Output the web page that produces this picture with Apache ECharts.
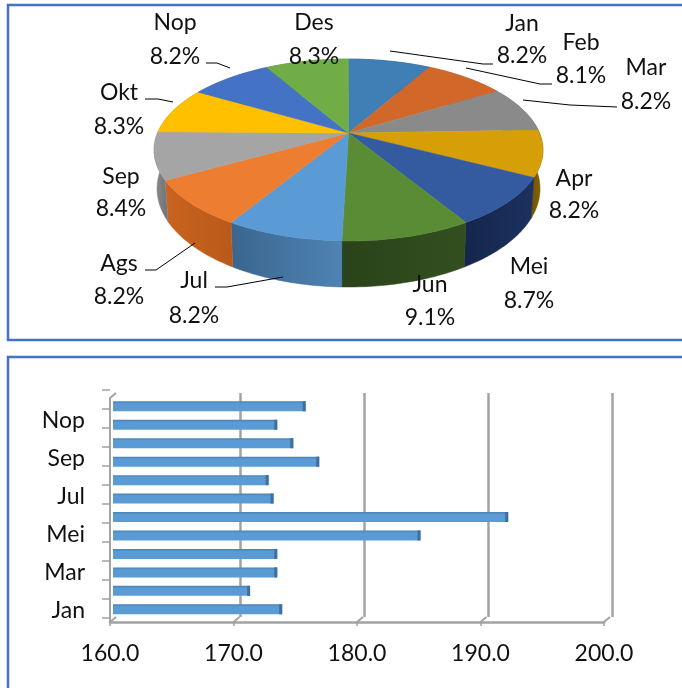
<!DOCTYPE html>
<html><head><meta charset="utf-8">
<style>html,body{margin:0;padding:0;background:#fff}#c{width:682px;height:688px}</style>
<script src="https://cdn.jsdelivr.net/npm/echarts@6/dist/echarts.min.js"></script>
</head><body><div id="c"></div>
<script>
// ---- data ----
const months = ['Jan','Feb','Mar','Apr','Mei','Jun','Jul','Ags','Sep','Okt','Nop','Des'];
const shares = [8.2,8.1,8.2,8.2,8.7,9.1,8.2,8.2,8.4,8.3,8.2,8.3];
const barValues = [173.7,171.1,173.3,173.3,184.9,192.0,173.0,172.6,176.7,174.6,173.3,175.6];
const xTicks = [160,170,180,190,200];

// ---- styles / layout ----
const topColors = ['#3f7fb6','#d2672a','#8a8a8a','#d69f08','#345a9f','#5a8c36','#5b9bd5','#ed7d31','#a5a5a5','#ffc000','#4472c4','#70ad47'];
const wallColors = [['#2f5f88','#2f5f88'],['#9c4d1f','#9c4d1f'],['#686868','#686868'],['#6e5200','#8a6800'],
  ['#14264c','#1d3160'],['#2a431a','#334f1f'],['#3a668f','#4f83b3'],['#c9641f','#b9591a'],['#8d8d8d','#707070'],
  ['#bf9000','#bf9000'],['#335593','#335593'],['#548235','#548235']];
const FONT = '23px Lato, sans-serif';
const labelPos = [[522,24,56],[581,43,76],[646,68,102],[574,179,211],[529,267,301],[430,285,318],
  [194,281,316],[119,264,297],[121,177,209],[119,93,127],[175,23,57],[314,23,57]];
const leaders = [
  [[390,51],[483,64],[493,64]],
  [[466,68],[540,84],[552,84]],
  [[523,100],[570,105],[617,107]],
  [[195,243],[156,270],[145,270]],
  [[283,277],[227,287],[215,287]],
  [[173,102],[158,99],[145,99]],
  [[230,68],[217,63],[206,63]]
];
const APEX = [348.5,133], A = 191, B = 87.8, K = 0.187, DEPTH = 37.4;
const total = shares.reduce((a,b)=>a+b,0);
function proj(t, wall){
  const th = t*2*Math.PI, u = Math.sin(th), v = -Math.cos(th), d = 1-K*v;
  if(wall) return [APEX[0]+0.985*A*u/d, APEX[1]+B*v/d+DEPTH/d];
  return [APEX[0]+A*u/d, APEX[1]+B*v/d];
}
function startOf(i){ let s=0; for(let j=0;j<i;j++) s+=shares[j]; return s/total; }
function rim(t0,t1,wall){ const n=40,p=[]; for(let i=0;i<=n;i++) p.push(proj(t0+(t1-t0)*i/n,wall)); return p; }

const grey = '#a3a3a3';
const pieTop = (params, api) => {
  const i = params.dataIndex, t0 = startOf(i), t1 = t0 + api.value(0)/total;
  return {type:'polygon', shape:{points:[APEX].concat(rim(t0,t1,false))},
    style:{fill:topColors[i], stroke:topColors[i], lineWidth:0.5}};
};
const pieWall = (params, api) => {
  const i = params.dataIndex, t0 = startOf(i), t1 = t0 + api.value(0)/total;
  const pts = rim(t0,t1,false).concat(rim(t0,t1,true).reverse());
  return {type:'polygon', shape:{points:pts},
    style:{fill:new echarts.graphic.LinearGradient(0,0,1,0,[{offset:0,color:wallColors[i][0]},{offset:1,color:wallColors[i][1]}]),
      stroke:wallColors[i][0], lineWidth:0.5}};
};
const barItem = (params, api) => {
  const end = api.coord([api.value(0), api.value(1)]);
  const start = api.coord([160, api.value(1)]);
  const h = 10;
  return {type:'group', children:[
    {type:'rect', shape:{x:start[0],y:end[1]-h/2,width:end[0]-start[0],height:h},
      style:{fill:new echarts.graphic.LinearGradient(0,0,0,1,[{offset:0,color:'#4a7fb0'},{offset:0.25,color:'#5b9bd5'},{offset:1,color:'#5b9bd5'}])}},
    {type:'rect', shape:{x:end[0]-3,y:end[1]-h/2,width:3,height:h}, style:{fill:'#3f6f9c'}}
  ]};
};
const connector = (params, api) => {
  const p = api.coord([api.value(0), api.value(1)]);
  return {type:'line', shape:{x1:p[0],y1:p[1],x2:p[0]+6,y2:p[1]-5}, style:{stroke:grey,lineWidth:2}};
};

const graphics = [
  {type:'rect', z:0, shape:{x:8,y:5,width:720,height:335}, style:{fill:'#fff',stroke:'#4472c4',lineWidth:2.5}},
  {type:'rect', z:0, shape:{x:8,y:357,width:720,height:380}, style:{fill:'#fff',stroke:'#4472c4',lineWidth:2.5}}
];
leaders.forEach(l=>graphics.push({type:'polyline', z:20, shape:{points:l}, style:{stroke:'#000',lineWidth:1,fill:'none'}}));
months.forEach((m,i)=>{
  const [x,y1,y2]=labelPos[i];
  graphics.push({type:'text', z:20, style:{text:m,x:x,y:y1,font:FONT,fill:'#111',align:'center',verticalAlign:'middle'}});
  graphics.push({type:'text', z:20, style:{text:shares[i].toFixed(1)+'%',x:x,y:y2,font:FONT,fill:'#111',align:'center',verticalAlign:'middle'}});
});

const chart = echarts.init(document.getElementById('c'),null,{renderer:'canvas'});
chart.setOption({
  animation:false,
  backgroundColor:'#fff',
  textStyle:{fontFamily:'Lato, sans-serif'},
  graphic:graphics,
  grid:[
    {left:110,top:398,width:494,height:224},
    {left:116,top:393,width:496,height:224},
    {left:110,top:389.3,width:494,height:228},
    {left:113,top:397.1,width:494,height:221.4},
    {left:110,top:392,width:494,height:228}
  ],
  xAxis:[
    {gridIndex:0,type:'value',min:160,max:200,interval:10,splitLine:{show:false},
      axisLine:{show:true,lineStyle:{color:grey,width:2.5}},axisTick:{show:true,length:4,lineStyle:{color:grey,width:1.5}},
      axisLabel:{color:'#111',fontSize:23,fontFamily:'Lato, sans-serif',margin:20,formatter:v=>v.toFixed(1)}},
    {gridIndex:1,type:'value',min:160,max:200,interval:10,axisLine:{show:false},axisTick:{show:false},axisLabel:{show:false},
      splitLine:{show:true,showMinLine:false,lineStyle:{color:grey,width:2.5}}},
    {gridIndex:2,type:'value',min:160,max:200,show:false},
    {gridIndex:3,type:'value',min:160,max:200,show:false},
    {gridIndex:4,type:'value',min:160,max:200,show:false}
  ],
  yAxis:[
    {gridIndex:0,type:'value',min:0,max:1,axisLine:{show:true,lineStyle:{color:grey,width:2}},axisTick:{show:false},axisLabel:{show:false},splitLine:{show:false}},
    {gridIndex:1,type:'value',min:0,max:1,show:false,splitLine:{show:false}},
    {gridIndex:2,type:'category',data:months,axisLine:{show:false},
      axisTick:{show:true,length:8,interval:0,lineStyle:{color:grey,width:1.5}},axisLabel:{show:false}},
    {gridIndex:3,type:'category',data:months,show:false},
    {gridIndex:4,type:'category',data:months,axisLine:{show:false},axisTick:{show:false},
      axisLabel:{color:'#111',fontSize:23,fontFamily:'Lato, sans-serif',interval:1,margin:25}}
  ],
  series:[
    {type:'custom',coordinateSystem:'none',z:5,renderItem:pieWall,data:shares.map(v=>[v]),silent:true},
    {type:'custom',coordinateSystem:'none',z:6,renderItem:pieTop,data:shares.map(v=>[v]),silent:true},
    {type:'custom',xAxisIndex:0,yAxisIndex:0,z:3,renderItem:connector,encode:{x:0,y:1},data:xTicks.map(v=>[v,0]).concat([[160,1]]),silent:true},
    {type:'custom',xAxisIndex:3,yAxisIndex:3,z:7,renderItem:barItem,encode:{x:0,y:1},data:barValues.map((v,i)=>[v,i]),silent:true}
  ]
});
</script></body></html>
